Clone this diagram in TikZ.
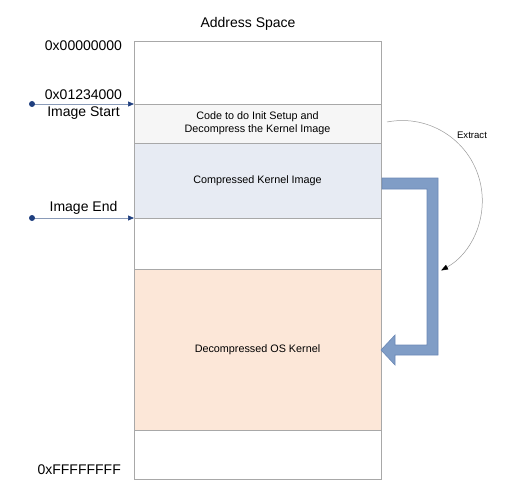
\documentclass[tikz,border=0pt]{standalone}
\usepackage{fontspec}
\setmainfont{Liberation Sans}
\usetikzlibrary{arrows.meta}
\definecolor{boxline}{HTML}{A8A8A8}
\definecolor{codefill}{HTML}{F6F6F6}
\definecolor{compfill}{HTML}{E7EBF3}
\definecolor{decfill}{HTML}{FCE7D8}
\definecolor{ptrblue}{HTML}{1F3F7F}
\definecolor{ptrline}{HTML}{8A9BB8}
\definecolor{bigblue}{HTML}{809DC6}
\definecolor{bigblueline}{HTML}{6C89B6}
\tikzset{
  row/.style={draw=boxline, line width=0.8pt, minimum width=247pt, inner sep=0pt, outer sep=0pt, align=center, font=\fontsize{10.8}{13}\selectfont},
  addr/.style={font=\fontsize{14}{16}\selectfont, inner sep=0pt},
  ptr/.style={draw=ptrline, line width=0.7pt, -{Triangle[length=6pt,width=5pt,fill=ptrblue,color=ptrblue]}},
  dotmark/.style={fill=ptrblue}
}
\begin{document}
\begin{tikzpicture}[x=1pt,y=-1pt]
\useasboundingbox (0,0) rectangle (513,492);
% rows of the address space
\node[row, fill=white, minimum height=63pt] (top) at (257.5,72.5) {};
\node[row, fill=codefill, minimum height=39pt] (code) at (257.5,123.5) {Code to do Init Setup and\\Decompress the Kernel Image};
\node[row, fill=compfill, minimum height=75pt] (comp) at (257.5,180.5) {Compressed Kernel Image};
\node[row, fill=white, minimum height=51pt] (gap) at (257.5,243.5) {};
\node[row, fill=decfill, minimum height=161pt] (dec) at (257.5,349.5) {Decompressed OS Kernel};
\node[row, fill=white, minimum height=49pt] (bot) at (257.5,454.5) {};
% title
\node[addr] (title) at (248,24) {Address Space};
% address labels
\node[addr] (a0) at (83.5,46) {0x00000000};
\node[addr] (a1) at (83.5,95) {0x01234000};
\node[addr] (a1b) at (83.5,113) {Image Start};
\node[addr] (a2) at (83.5,208) {Image End};
\node[addr, anchor=east] (a3) at (121,470) {0xFFFFFFFF};
% pointers
\coordinate (s1) at (32,104);
\coordinate (s2) at (32,218);
\draw[ptr] (s1) -- (s1 -| code.west);
\draw[ptr] (s2) -- (s2 -| comp.west);
\fill[dotmark] (s1) circle (3pt);
\fill[dotmark] (s2) circle (3pt);
% big bent arrow
\draw[fill=bigblue, draw=bigblueline, line width=0.6pt]
  (382,178) -- (438,178) -- (438,355) -- (395,355) -- (395,365) -- (381,350)
  -- (395,335) -- (395,345) -- (427,345) -- (427,189) -- (382,189) -- cycle;
% extract arc
\coordinate (ex0) at (387,122);
\draw[draw=gray!80, line width=0.5pt, -{Triangle[length=7pt,width=5pt,fill=black,color=black]}]
  (ex0) arc[start angle=-101, end angle=61, radius=80];
\node[font=\fontsize{9.6}{11}\selectfont, inner sep=0pt] (ext) at (472,135) {Extract};
\end{tikzpicture}
\end{document}
